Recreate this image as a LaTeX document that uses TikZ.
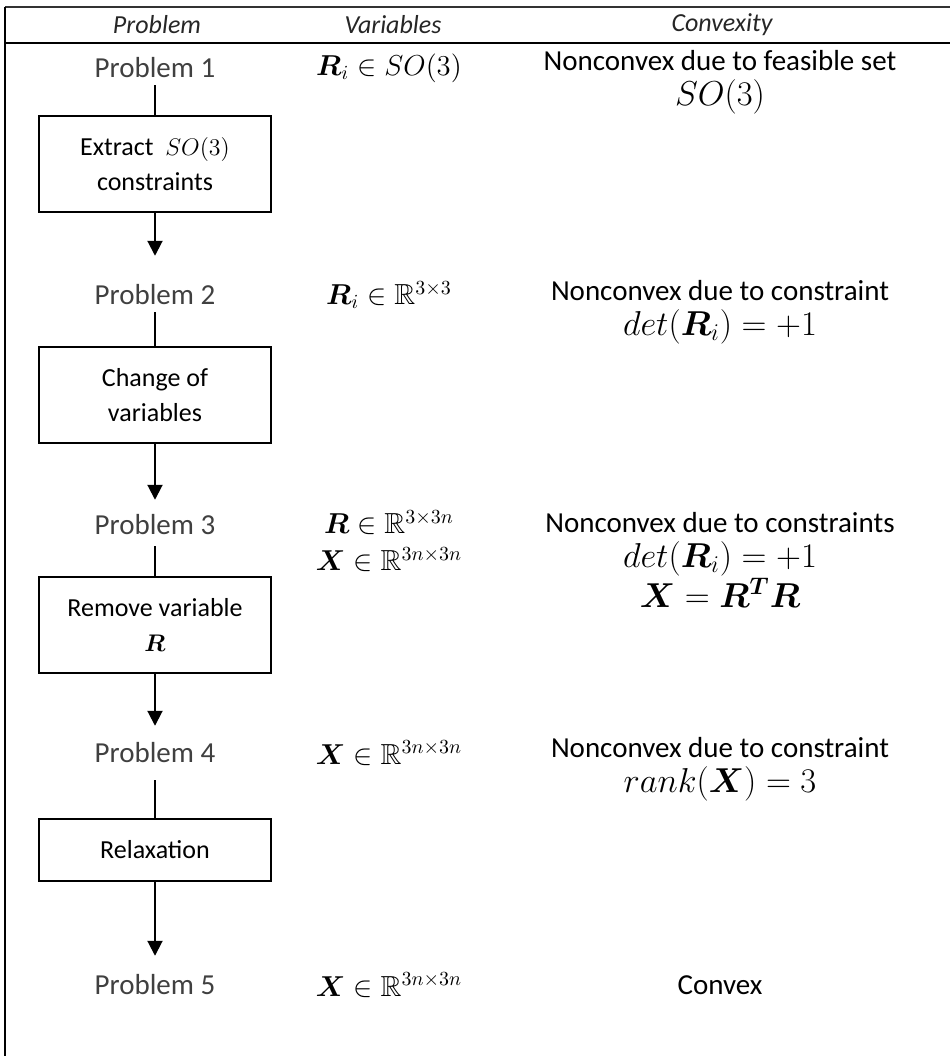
\documentclass[tikz,border=0pt]{standalone}
\usepackage{amsmath,amssymb,bm}
\usepackage[no-math]{fontspec}
\setmainfont{Carlito}
\usetikzlibrary{arrows.meta}

\newcommand{\eqline}[1]{{\fontsize{16.5}{19}\selectfont$#1$}}

\tikzset{
  colhead/.style = {font=\fontsize{13}{15}\selectfont\itshape, text=black!85},
  probname/.style = {font=\fontsize{14.5}{17}\selectfont, text=black!75},
  vartext/.style = {font=\fontsize{14.5}{18.5}\selectfont, align=center},
  convtext/.style = {font=\fontsize{14.5}{17.5}\selectfont, align=center},
  stepbox/.style = {draw, line width=1pt, minimum width=116pt, minimum height=48pt,
                    align=center, font=\fontsize{13}{17.5}\selectfont},
  link/.style = {line width=1pt},
  flow/.style = {line width=1pt, -{Triangle[width=7.5pt,length=7.5pt]}}
}

\begin{document}
\begin{tikzpicture}[x=0.5pt, y=-0.5pt]
\useasboundingbox (0,0) rectangle (950,1056);

% table frame
\draw[line width=0.6pt, black!80] (5,7) -- (950,7);
\draw[line width=1.2pt] (5,43) -- (950,43);
\draw[line width=1.3pt] (5,7) -- (5,1056);

% column heads
\node[colhead] (hprob) at (157,25) {Problem};
\node[colhead] (hvar)  at (393,25) {Variables};
\node[colhead] (hconv) at (722,25) {Convexity};

% problems
\node[probname] (p1) at (155,68)  {Problem 1};
\node[probname] (p2) at (155,295) {Problem 2};
\node[probname] (p3) at (155,525) {Problem 3};
\node[probname] (p4) at (155,753) {Problem 4};
\node[probname] (p5) at (155,985) {Problem 5};

% steps between problems
\node[stepbox] (b1) at (155,164) {Extract\ \ $SO(3)$\\constraints};
\node[stepbox] (b2) at (155,395) {Change of\\variables};
\node[stepbox] (b3) at (155,625) {Remove variable\\$\bm{R}$};
\node[stepbox, minimum height=31pt] (b4) at (155,850) {Relaxation};

% variables
\node[vartext] (v1) at (389,68)  {$\bm{R}_i \in SO(3)$};
\node[vartext] (v2) at (389,295) {$\bm{R}_i \in \mathbb{R}^{3\times 3}$};
\node[vartext] (v3) at (389,541) {$\bm{R} \in \mathbb{R}^{3\times 3n}$\\
                                  $\bm{X} \in \mathbb{R}^{3n\times 3n}$};
\node[vartext] (v4) at (389,753) {$\bm{X} \in \mathbb{R}^{3n\times 3n}$};
\node[vartext] (v5) at (389,985) {$\bm{X} \in \mathbb{R}^{3n\times 3n}$};

% convexity
\node[convtext] (c1) at (720,82)  {Nonconvex due to feasible set\\\eqline{SO(3)}};
\node[convtext] (c2) at (720,312) {Nonconvex due to constraint\\\eqline{det(\bm{R}_i) = +1}};
\node[convtext] (c3) at (720,560) {Nonconvex due to constraints\\\eqline{det(\bm{R}_i) = +1}\\
                                   \eqline{\bm{X} = \bm{R}^{\bm{T}}\bm{R}}};
\node[convtext] (c4) at (720,769) {Nonconvex due to constraint\\\eqline{rank(\bm{X}) = 3}};
\node[convtext] (c5) at (720,985) {Convex};

% connectors
\draw[link] (p1) -- (b1);
\draw[flow, shorten >=11pt] (b1) -- (p2);
\draw[link] (p2) -- (b2);
\draw[flow, shorten >=4pt] (b2) -- (p3);
\draw[link, shorten <=2pt] (p3) -- (b3);
\draw[flow, shorten >=5pt] (b3) -- (p4);
\draw[link, shorten <=5pt] (p4) -- (b4);
\draw[flow, shorten >=6pt] (b4) -- (p5);
\end{tikzpicture}
\end{document}
